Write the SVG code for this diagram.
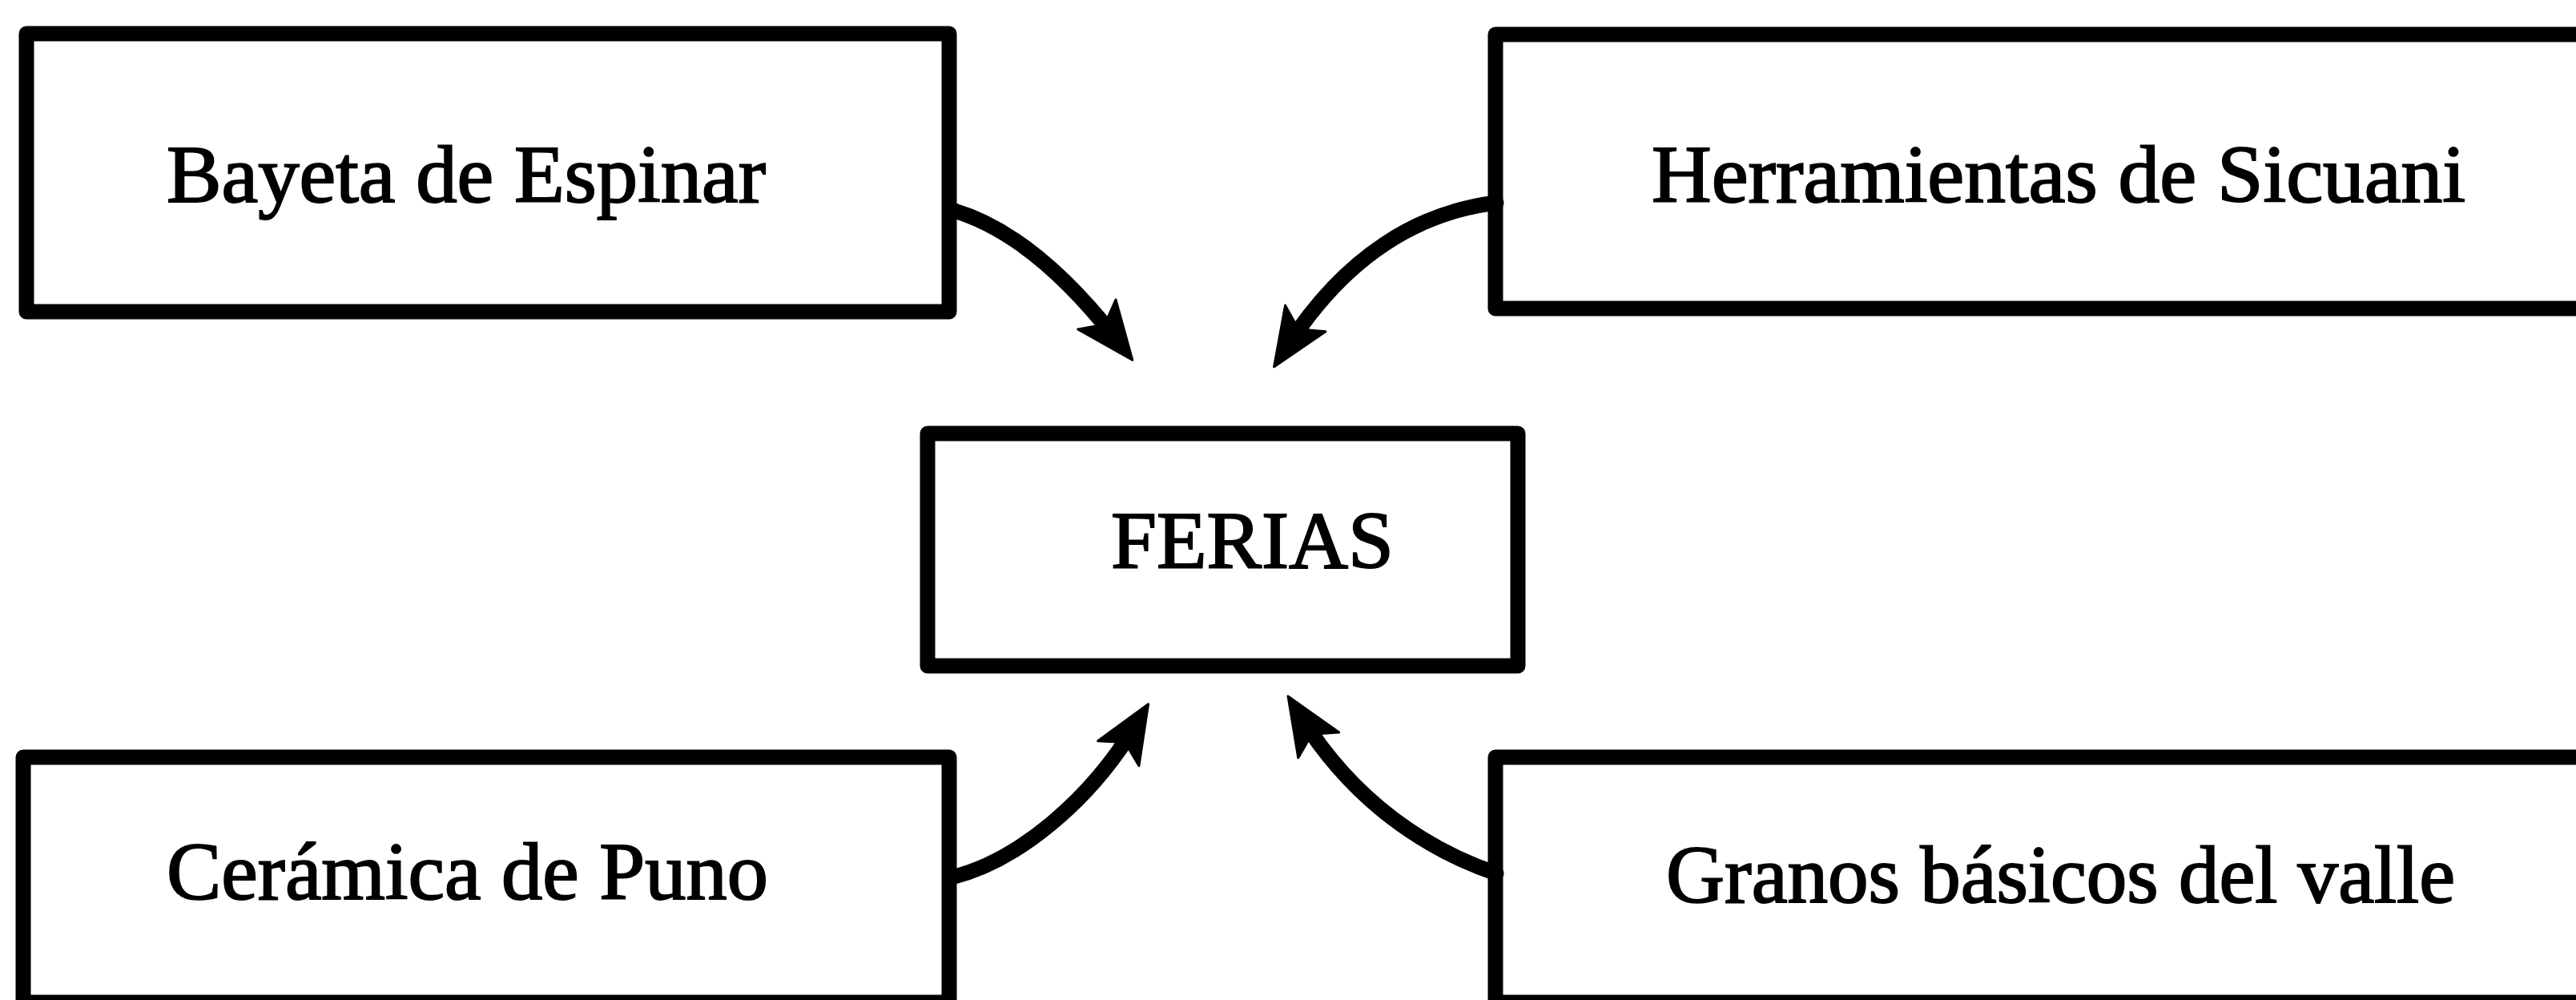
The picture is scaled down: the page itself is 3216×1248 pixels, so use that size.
<svg xmlns="http://www.w3.org/2000/svg" width="3216" height="1248" viewBox="0 0 3216 1248">
<defs>
<style>
.box{fill:#fff;stroke:#000;stroke-width:19;stroke-linejoin:round}
.lbl{font-family:"Liberation Serif","Times New Roman",serif;font-size:102px;fill:#000;stroke:#000;stroke-width:2}
.conn{fill:none;stroke:#000;stroke-width:19;stroke-linecap:round}
</style>
<marker id="head" markerUnits="userSpaceOnUse" markerWidth="110" markerHeight="90" viewBox="-75 -45 110 90" refX="0" refY="0" orient="auto">
<path d="M32,0 L-40,-30 L-24,0 L-40,30 Z" fill="#000" stroke="#000" stroke-width="3" stroke-linejoin="round"/>
</marker>
</defs>
<rect width="3216" height="1248" fill="#fff"/>
<g id="bayeta">
<rect class="box" x="33" y="42" width="1152" height="347"/>
<text class="lbl" x="208" y="252" textLength="748" lengthAdjust="spacingAndGlyphs">Bayeta de Espinar</text>
</g>
<g id="herramientas">
<rect class="box" x="1867" y="43" width="1380" height="342"/>
<text class="lbl" x="2062" y="252" textLength="1016" lengthAdjust="spacingAndGlyphs">Herramientas de Sicuani</text>
</g>
<g id="ferias">
<rect class="box" x="1158" y="541" width="737" height="290"/>
<text class="lbl" x="1387" y="709" textLength="353" lengthAdjust="spacingAndGlyphs">FERIAS</text>
</g>
<g id="ceramica">
<rect class="box" x="29" y="945" width="1156" height="306"/>
<text class="lbl" x="208" y="1122" textLength="751" lengthAdjust="spacingAndGlyphs">Cerámica de Puno</text>
</g>
<g id="granos">
<rect class="box" x="1867" y="945" width="1380" height="306"/>
<text class="lbl" x="2080" y="1126" textLength="985" lengthAdjust="spacingAndGlyphs">Granos básicos del valle</text>
</g>
<g id="connectors">
<path class="conn" d="M1188,262 C1270,285 1340,355 1394,424" marker-end="url(#head)"/>
<path class="conn" d="M1868,253 C1770,265 1680,320 1608,431" marker-end="url(#head)"/>
<path class="conn" d="M1188,1095 C1270,1075 1360,1000 1417,906" marker-end="url(#head)"/>
<path class="conn" d="M1868,1090 C1780,1060 1690,1000 1625,896" marker-end="url(#head)"/>
</g>
</svg>
